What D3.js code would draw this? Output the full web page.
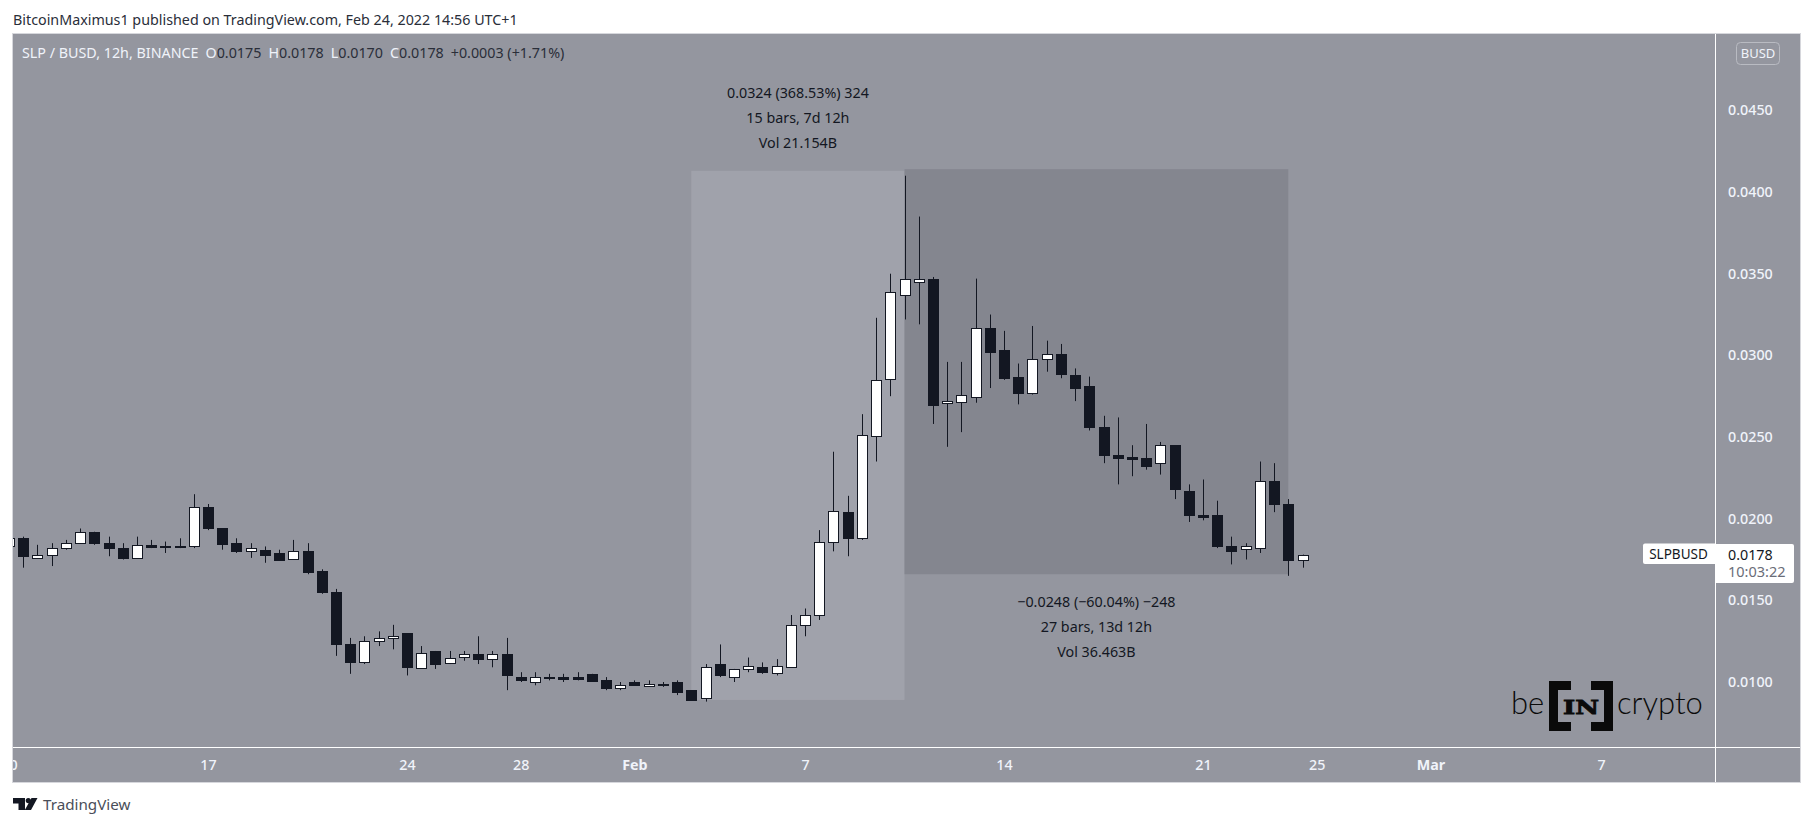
<!DOCTYPE html>
<html>
<head>
<meta charset="utf-8">
<script src="https://cdn.jsdelivr.net/npm/d3@7"></script>
<style>
  html, body { margin: 0; padding: 0; background: #fff; }
  svg { display: block; font-family: "Noto Sans", sans-serif; }
</style>
</head>
<body>
<svg width="1813" height="826"></svg>
<script>
// 12h candles from Jan 10 2022 00:00
const opens = [0.0183,0.0188,0.0176,0.0178,0.0182,0.0185,0.0192,0.0185,0.0182,0.0176,0.0184,0.0183,0.0183,0.0183,0.0207,0.0194,0.0185,0.0180,0.0181,0.0179,0.0175,0.0180,0.0168,0.0155,0.0123,0.0112,0.0125,0.0127,0.0130,0.0109,0.0119,0.0112,0.0115,0.0117,0.0114,0.0117,0.0103,0.0100,0.0103,0.0103,0.0103,0.0105,0.0101,0.0096,0.0100,0.0098,0.0099,0.0100,0.0095,0.0090,0.0111,0.0103,0.0108,0.0109,0.0106,0.0109,0.0135,0.0141,0.0186,0.0204,0.0188,0.0251,0.0286,0.0337,0.0345,0.0347,0.0271,0.0272,0.0275,0.0317,0.0303,0.0287,0.0277,0.0298,0.0301,0.0288,0.0281,0.0256,0.0239,0.0238,0.0237,0.0234,0.0245,0.0217,0.0202,0.0202,0.0183,0.0181,0.0182,0.0223,0.0209,0.0175];
const highs = [0.0189,0.0189,0.0184,0.0185,0.0187,0.0194,0.0192,0.0189,0.0185,0.0189,0.0187,0.0186,0.0188,0.0215,0.0209,0.0194,0.0188,0.0185,0.0183,0.0181,0.0187,0.0185,0.0169,0.0157,0.0127,0.0128,0.0131,0.0135,0.0130,0.0122,0.0119,0.0119,0.0119,0.0128,0.0119,0.0127,0.0106,0.0106,0.0105,0.0105,0.0106,0.0105,0.0103,0.0100,0.0101,0.0101,0.0100,0.0101,0.0095,0.0111,0.0123,0.0108,0.0115,0.0112,0.0114,0.0141,0.0145,0.0193,0.0241,0.0214,0.0264,0.0323,0.0350,0.0410,0.0385,0.0348,0.0296,0.0296,0.0347,0.0325,0.0315,0.0295,0.0318,0.0309,0.0307,0.0292,0.0287,0.0263,0.0262,0.0245,0.0258,0.0247,0.0245,0.0221,0.0224,0.0211,0.0189,0.0185,0.0235,0.0234,0.0212,0.0178];
const lows = [0.0182,0.0170,0.0176,0.0171,0.0181,0.0185,0.0184,0.0177,0.0175,0.0176,0.0182,0.0179,0.0182,0.0182,0.0193,0.0181,0.0179,0.0176,0.0173,0.0175,0.0175,0.0166,0.0154,0.0116,0.0105,0.0111,0.0122,0.0120,0.0104,0.0108,0.0108,0.0111,0.0113,0.0111,0.0109,0.0095,0.0100,0.0098,0.0101,0.0100,0.0101,0.0100,0.0095,0.0095,0.0098,0.0098,0.0097,0.0092,0.0089,0.0088,0.0103,0.0100,0.0106,0.0105,0.0104,0.0109,0.0128,0.0138,0.0180,0.0177,0.0187,0.0235,0.0275,0.0322,0.0319,0.0258,0.0244,0.0253,0.0271,0.0280,0.0285,0.0270,0.0276,0.0290,0.0286,0.0272,0.0254,0.0234,0.0221,0.0226,0.0230,0.0227,0.0212,0.0198,0.0199,0.0182,0.0172,0.0175,0.0179,0.0204,0.0165,0.0170];
const closes = [0.0188,0.0177,0.0178,0.0182,0.0185,0.0192,0.0185,0.0182,0.0176,0.0184,0.0183,0.0183,0.0183,0.0207,0.0194,0.0184,0.0180,0.0182,0.0178,0.0175,0.0180,0.0167,0.0155,0.0123,0.0112,0.0125,0.0127,0.0128,0.0109,0.0118,0.0111,0.0115,0.0117,0.0114,0.0117,0.0104,0.0101,0.0103,0.0103,0.0102,0.0102,0.0101,0.0096,0.0098,0.0098,0.0099,0.0099,0.0094,0.0089,0.0109,0.0104,0.0108,0.0110,0.0106,0.0110,0.0135,0.0141,0.0186,0.0205,0.0188,0.0251,0.0285,0.0339,0.0347,0.0347,0.0270,0.0272,0.0276,0.0317,0.0302,0.0286,0.0277,0.0298,0.0301,0.0289,0.0280,0.0256,0.0239,0.0237,0.0237,0.0232,0.0245,0.0218,0.0202,0.0201,0.0183,0.0180,0.0183,0.0223,0.0209,0.0175,0.0178];

const priceTicks = [0.045, 0.04, 0.035, 0.03, 0.025, 0.02, 0.015, 0.01];
const dateTicks = ["2022-01-10","2022-01-17","2022-01-24","2022-01-28","2022-02-01","2022-02-07","2022-02-14","2022-02-21","2022-02-25","2022-03-01","2022-03-07"];
const dateLabels = ["10","17","24","28","Feb","7","14","21","25","Mar","7"];
const monthLabels = ["Feb", "Mar"];

// price range boxes: bar index from/to and price from/to
const longFrom = 48, longTo = 63, longLow = 0.0089, longHigh = 0.0413;
const shortFrom = 63, shortTo = 90, shortLow = 0.0166, shortHigh = 0.0414;
const longLines = ["0.0324 (368.53%) 324", "15 bars, 7d 12h", "Vol 21.154B"];
const shortLines = ["\u22120.0248 (\u221260.04%) \u2212248", "27 bars, 13d 12h", "Vol 36.463B"];

const paneLeft = 13, paneRight = 1715, frameRight = 1800, paneTop = 34, paneBottom = 747, frameBottom = 782;
const bodyWidth = 10;
const textSize = 14.3;

const dark = "#131722", paneColor = "#94969f";

const svg = d3.select("svg");

const x = d3.scaleUtc()
  .domain([new Date("2022-01-10"), new Date("2022-03-07")])
  .range([9, 1601]);
const y = d3.scaleLinear()
  .domain([0.01, 0.045])
  .range([682, 110.4]);

const barTime = i => d3.utcHour.offset(new Date("2022-01-10"), i * 12);
const bars = opens.map((o, i) => ({ t: barTime(i), o, h: highs[i], l: lows[i], c: closes[i] }));

svg.append("text").attr("x", 13).attr("y", 25)
  .attr("font-size", textSize).attr("fill", "#2a2e39")
  .text("BitcoinMaximus1 published on TradingView.com, Feb 24, 2022 14:56 UTC+1");

// pane and frame
svg.append("rect")
  .attr("x", paneLeft - 0.5).attr("y", paneTop - 0.5)
  .attr("width", frameRight - paneLeft + 1).attr("height", frameBottom - paneTop + 1)
  .attr("fill", paneColor).attr("stroke", "#d6d7dc");

svg.append("defs").append("clipPath").attr("id", "pane")
  .append("rect").attr("x", paneLeft).attr("y", paneTop)
  .attr("width", paneRight - paneLeft).attr("height", frameBottom - paneTop);

const pane = svg.append("g").attr("clip-path", "url(#pane)");

// measure boxes
pane.append("rect")
  .attr("x", x(barTime(longFrom))).attr("y", y(longHigh))
  .attr("width", x(barTime(longTo)) - x(barTime(longFrom)))
  .attr("height", y(longLow) - y(longHigh))
  .attr("fill", "#a0a2ab");
pane.append("rect")
  .attr("x", x(barTime(shortFrom))).attr("y", y(shortHigh))
  .attr("width", x(barTime(shortTo)) - x(barTime(shortFrom)))
  .attr("height", y(shortLow) - y(shortHigh))
  .attr("fill", "#84868f");

// candles
const candle = pane.append("g").selectAll("g").data(bars).enter().append("g")
  .attr("transform", d => `translate(${Math.round(x(d.t))},0)`);
candle.append("line")
  .attr("x1", 0.5).attr("x2", 0.5)
  .attr("y1", d => y(d.h)).attr("y2", d => y(d.l))
  .attr("stroke", dark).attr("stroke-width", 1);
candle.append("rect")
  .attr("x", -bodyWidth / 2 + 0.5).attr("width", bodyWidth)
  .attr("y", d => Math.round(y(Math.max(d.o, d.c))) + 0.5)
  .attr("height", d => Math.max(1, Math.round(y(Math.min(d.o, d.c)) - y(Math.max(d.o, d.c)))))
  .attr("fill", d => d.c >= d.o && d.c !== d.o ? "#fff" : dark)
  .attr("stroke", dark).attr("stroke-width", 1);

// measure captions
const caption = (lines, cx, ys) => {
  svg.append("g").selectAll("text").data(lines).enter().append("text")
    .attr("x", cx).attr("y", (d, i) => ys[i])
    .attr("text-anchor", "middle").attr("font-size", textSize).attr("fill", dark)
    .text(d => d);
};
caption(longLines, (x(barTime(longFrom)) + x(barTime(longTo))) / 2, [97.5, 122.5, 147.5]);
caption(shortLines, (x(barTime(shortFrom)) + x(barTime(shortTo))) / 2, [606.5, 631.5, 656.5]);

// legend
const legend = svg.append("text").attr("x", 22).attr("y", 58).attr("font-size", textSize).attr("fill", "#2a2e39");
legend.append("tspan").attr("fill", "#f0f3fa").text("SLP / BUSD, 12h, BINANCE");
[["O", "0.0175"], ["H", "0.0178"], ["L", "0.0170"], ["C", "0.0178"]].forEach((p, i) => {
  legend.append("tspan").attr("dx", 7).attr("fill", "#f0f3fa").text(p[0]);
  legend.append("tspan").text(p[1]);
});
legend.append("tspan").attr("dx", 7).text("+0.0003 (+1.71%)");

// axes
const yAxis = svg.append("g")
  .attr("transform", `translate(${paneRight},0)`)
  .call(d3.axisRight(y).tickValues(priceTicks).tickSize(0).tickPadding(13).tickFormat(d3.format(".4f")));
yAxis.select(".domain").remove();
yAxis.selectAll("text")
  .attr("fill", "#f0f3fa").attr("font-size", textSize).attr("font-weight", 500)
  .attr("font-family", '"Noto Sans", sans-serif');

const xAxis = svg.append("g")
  .attr("clip-path", "url(#pane)")
  .append("g")
  .attr("transform", `translate(0,${paneBottom})`)
  .call(d3.axisBottom(x).tickValues(dateTicks.map(d => new Date(d))).tickSize(0).tickPadding(13)
    .tickFormat((d, i) => dateLabels[i]));
xAxis.select(".domain").remove();
xAxis.selectAll("text")
  .attr("fill", "#f0f3fa").attr("font-size", textSize)
  .attr("font-weight", d => monthLabels.includes(dateLabels[dateTicks.findIndex(t => +new Date(t) === +d)]) ? 700 : 500)
  .attr("font-family", '"Noto Sans", sans-serif');

// pane separators
svg.append("line").attr("x1", paneRight + 0.5).attr("x2", paneRight + 0.5)
  .attr("y1", paneTop).attr("y2", frameBottom).attr("stroke", "#fff");
svg.append("line").attr("x1", paneLeft).attr("x2", frameRight)
  .attr("y1", paneBottom + 0.5).attr("y2", paneBottom + 0.5).attr("stroke", "#fff");

// currency badge
svg.append("rect").attr("x", 1736.5).attr("y", 42.5).attr("width", 43).attr("height", 22).attr("rx", 4)
  .attr("fill", "none").attr("stroke", "#b9bbc2");
svg.append("text").attr("x", 1758).attr("y", 58).attr("text-anchor", "middle")
  .attr("font-size", 13).attr("fill", "#f0f3fa").text("BUSD");

// last price tag
svg.append("path").attr("fill", "#fff")
  .attr("d", "M1645 543.5H1715V564H1645a2 2 0 0 1 -2 -2V545.5a2 2 0 0 1 2 -2Z");
svg.append("path").attr("fill", "#fff")
  .attr("d", "M1716 544H1792a2 2 0 0 1 2 2V581a2 2 0 0 1 -2 2H1716Z");
svg.append("text").attr("x", 1678.5).attr("y", 559).attr("text-anchor", "middle")
  .attr("font-size", 13.5).attr("fill", dark).text("SLPBUSD");
svg.append("text").attr("x", 1728).attr("y", 560)
  .attr("font-size", textSize).attr("fill", dark).text("0.0178");
svg.append("text").attr("x", 1728).attr("y", 577)
  .attr("font-size", 14.5).attr("fill", "#6a6d78").text("10:03:22");

// beincrypto mark
const logo = svg.append("g");
logo.append("text").attr("x", 1511).attr("y", 714).attr("font-size", 31).attr("font-family", "Lato")
  .attr("font-weight", 300).attr("fill", "#0a0a0a").text("be");
logo.append("text").attr("x", 1617).attr("y", 714).attr("font-size", 31).attr("font-family", "Lato")
  .attr("font-weight", 300).attr("fill", "#0a0a0a").text("crypto");
logo.append("path").attr("fill", "#0a0a0a")
  .attr("d", "M1549 681H1571V690H1558V722H1571V731H1549Z M1613 681H1591V690H1604V722H1591V731H1613Z");
logo.append("text").attr("x", 1581).attr("y", 714).attr("text-anchor", "middle")
  .attr("font-size", 19).attr("font-weight", 700).attr("font-family", "DejaVu Serif")
  .attr("textLength", 36).attr("lengthAdjust", "spacingAndGlyphs")
  .attr("stroke", "#0a0a0a").attr("stroke-width", 0.8)
  .attr("fill", "#0a0a0a").text("IN");

// TradingView footer
svg.append("path").attr("fill", "#131722")
  .attr("d", "M13 798H25V810H18.5V803.5H13Z M31.5 798H37.5L31 810H24.8Z");
svg.append("circle").attr("cx", 28.3).attr("cy", 800.6).attr("r", 2.6).attr("fill", "#131722");
svg.append("text").attr("x", 43).attr("y", 809.5).attr("font-size", 15.2)
  .attr("fill", "#4a4e59").text("TradingView");
</script>
</body>
</html>
